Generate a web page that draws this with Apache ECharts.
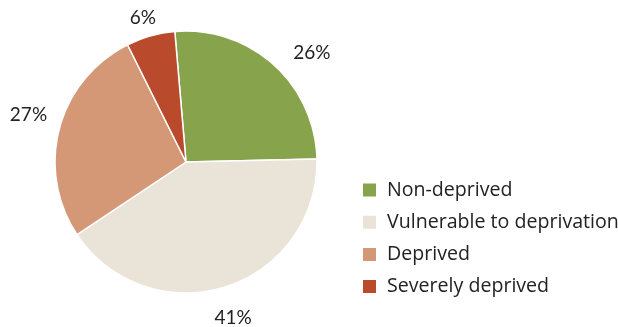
<!DOCTYPE html>
<html>
<head>
<meta charset="utf-8">
<script src="https://cdn.jsdelivr.net/npm/echarts@6/dist/echarts.min.js"></script>
<style>
  html, body { margin: 0; padding: 0; background: #fff; }
  #chart { width: 618px; height: 327px; }
</style>
</head>
<body>
<div id="chart"></div>
<script>
// Share of population by deprivation status (%)
const categories = ['Non-deprived', 'Vulnerable to deprivation', 'Deprived', 'Severely deprived'];
const shares = [26, 41, 27, 6];
const colors = ['#87a34b', '#e9e3d8', '#d59877', '#b94a2b'];
// small per-label nudges for the percentage labels (pixels)
const labelNudge = [[17, 12], [-2, 0], [0, -5], [1, 13]];

const FONT = '"Open Sans", Lato, sans-serif';
const center = [186, 162];

const pieData = categories.map((name, i) => ({
  name,
  value: shares[i],
  itemStyle: { color: colors[i] }
}));

const labelData = categories.map((name, i) => ({
  name,
  value: shares[i],
  label: { offset: labelNudge[i] }
}));

const chart = echarts.init(document.getElementById('chart'), null, { renderer: 'canvas' });
chart.setOption({
  animation: false,
  backgroundColor: '#ffffff',
  legend: {
    orient: 'vertical',
    left: 361,
    top: 180,
    padding: 0,
    icon: 'rect',
    itemWidth: 15,
    itemHeight: 15,
    itemGap: 12.2,
    selectedMode: false,
    data: categories,
    textStyle: {
      fontFamily: FONT,
      fontSize: 19.6,
      lineHeight: 18,
      color: '#222',
      padding: [0, 0, 0, 5]
    }
  },
  series: [
    {
      type: 'pie',
      center,
      radius: [0, 131],
      startAngle: 94.9,
      clockwise: true,
      silent: true,
      label: { show: false },
      labelLine: { show: false },
      itemStyle: { borderColor: '#ffffff', borderWidth: 1.5 },
      data: pieData
    },
    {
      // transparent ring that carries the percentage labels
      type: 'pie',
      center,
      radius: [150, 170],
      startAngle: 94.9,
      clockwise: true,
      silent: true,
      legendHoverLink: false,
      itemStyle: { color: 'rgba(0,0,0,0)', borderWidth: 0 },
      label: {
        show: true,
        position: 'inside',
        formatter: '{c}%',
        fontFamily: 'Lato, sans-serif',
        fontSize: 19,
        color: '#222'
      },
      labelLine: { show: false },
      data: labelData
    }
  ]
});
</script>
</body>
</html>
